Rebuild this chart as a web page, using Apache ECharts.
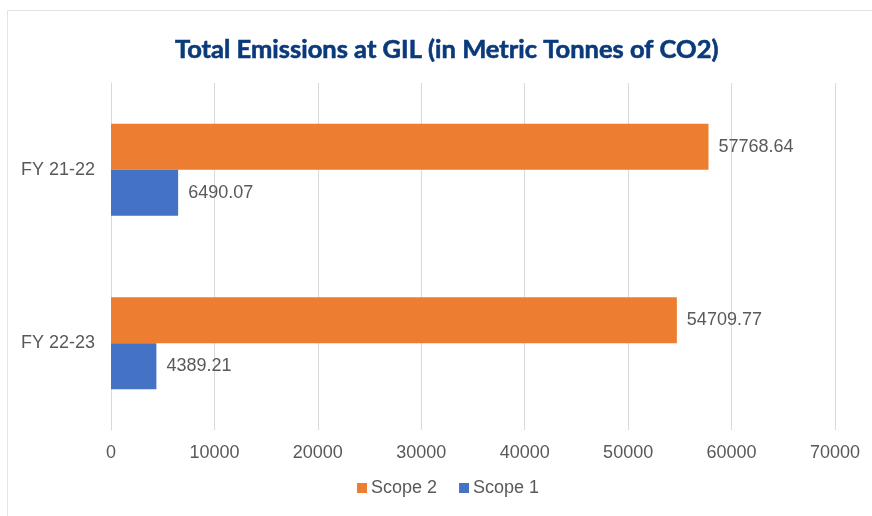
<!DOCTYPE html>
<html>
<head>
<meta charset="utf-8">
<script src="https://cdn.jsdelivr.net/npm/echarts@6/dist/echarts.min.js"></script>
<style>
  html, body { margin: 0; padding: 0; background: #fff; }
  #chart { width: 872px; height: 516px; }
</style>
</head>
<body>
<div id="chart"></div>
<script>
// Fiscal years, listed bottom to top on the category axis
const years = ['FY 22-23', 'FY 21-22'];
// Emissions in metric tonnes of CO2
const scope1 = [4389.21, 6490.07];
const scope2 = [54709.77, 57768.64];
const legendNames = ['Scope 2', 'Scope 1'];

const chart = echarts.init(document.getElementById('chart'));

const textFont = 'Liberation Sans, Arial, sans-serif';
const valueLabel = {
  show: true,
  position: 'right',
  distance: 10,
  color: '#595959',
  fontFamily: textFont,
  fontSize: 18
};

chart.setOption({
  animation: false,
  backgroundColor: '#ffffff',
  graphic: [{
    type: 'rect',
    shape: { x: 7.5, y: 10.5, width: 900, height: 520 },
    style: { fill: 'none', stroke: '#e3e3e3', lineWidth: 1 },
    silent: true
  }],
  title: {
    text: 'Total Emissions at GIL (in Metric Tonnes of CO2)',
    left: 170,
    top: 32,
    textStyle: {
      color: '#0a3a7a',
      fontFamily: 'Lato, sans-serif',
      fontWeight: 'bold',
      fontSize: 25.5,
      textBorderColor: '#0a3a7a',
      textBorderWidth: 0.6
    }
  },
  legend: {
    data: legendNames,
    bottom: 14,
    left: 352,
    icon: 'rect',
    itemWidth: 10,
    itemHeight: 10,
    itemGap: 22,
    textStyle: {
      color: '#595959',
      fontFamily: textFont,
      fontSize: 18,
      padding: [0, 0, 0, -1]
    }
  },
  grid: {
    left: 111,
    right: 37,
    top: 83,
    bottom: 86,
    containLabel: false
  },
  xAxis: {
    type: 'value',
    min: 0,
    max: 70000,
    interval: 10000,
    axisLine: { show: false },
    axisTick: { show: false },
    splitLine: { lineStyle: { color: '#d9d9d9', width: 1 } },
    axisLabel: {
      color: '#595959',
      fontFamily: textFont,
      fontSize: 18,
      margin: 14,
      formatter: (v) => String(v)
    }
  },
  yAxis: {
    type: 'category',
    data: years,
    axisLine: { show: true, lineStyle: { color: '#d9d9d9' } },
    axisTick: { show: false },
    axisLabel: {
      color: '#595959',
      fontFamily: textFont,
      fontSize: 18,
      margin: 16
    }
  },
  series: [
    {
      name: 'Scope 2',
      type: 'bar',
      data: scope2,
      barWidth: 46,
      barGap: '0%',
      itemStyle: { color: '#ed7d31' },
      label: valueLabel
    },
    {
      name: 'Scope 1',
      type: 'bar',
      data: scope1,
      barWidth: 46,
      barGap: '0%',
      itemStyle: { color: '#4472c4' },
      label: valueLabel
    }
  ]
});
</script>
</body>
</html>
